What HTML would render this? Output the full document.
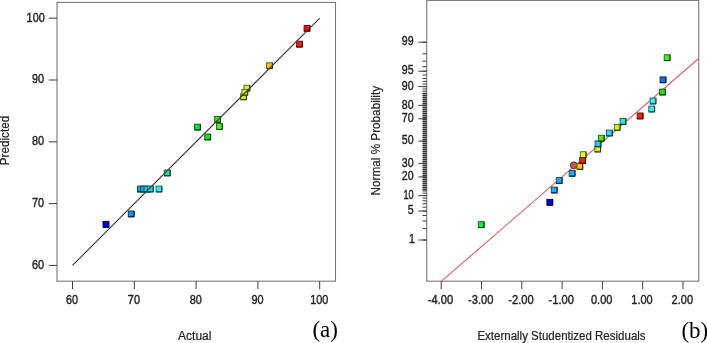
<!DOCTYPE html>
<html lang="en"><head><meta charset="utf-8"><title>Predicted vs Actual and Normal Plot of Residuals</title>
<style>html,body{margin:0;padding:0;background:#fff;}body{width:707px;height:343px;overflow:hidden;}svg{display:block;}.t{font-family:"Liberation Sans",Arial,sans-serif;fill:#222;stroke:#222;stroke-width:0.4px;}.t2{stroke-width:0.2px;}.s{font-family:"Liberation Serif","Times New Roman",serif;fill:#000;}</style></head><body>
<svg width="707" height="343" viewBox="0 0 707 343">
<rect x="0" y="0" width="707" height="343" fill="#fff"/>
<g id="chart-a">
<rect x="57.0" y="2.4" width="278.5" height="278.8" fill="#fff" stroke="#787878" stroke-width="1.1"/>
<line x1="48.8" y1="265.4" x2="57.0" y2="265.4" stroke="#3c3c3c" stroke-width="1"/>
<text class="t" x="44" y="268.6" font-size="12.6" text-anchor="end" textLength="12.1" lengthAdjust="spacingAndGlyphs">60</text>
<line x1="72.5" y1="281.2" x2="72.5" y2="289.2" stroke="#3c3c3c" stroke-width="1"/>
<text class="t" x="72.1" y="304.2" font-size="12.6" text-anchor="middle" textLength="12.1" lengthAdjust="spacingAndGlyphs">60</text>
<line x1="48.8" y1="203.6" x2="57.0" y2="203.6" stroke="#3c3c3c" stroke-width="1"/>
<text class="t" x="44" y="206.8" font-size="12.6" text-anchor="end" textLength="12.1" lengthAdjust="spacingAndGlyphs">70</text>
<line x1="134.3" y1="281.2" x2="134.3" y2="289.2" stroke="#3c3c3c" stroke-width="1"/>
<text class="t" x="133.9" y="304.2" font-size="12.6" text-anchor="middle" textLength="12.1" lengthAdjust="spacingAndGlyphs">70</text>
<line x1="48.8" y1="141.8" x2="57.0" y2="141.8" stroke="#3c3c3c" stroke-width="1"/>
<text class="t" x="44" y="145.0" font-size="12.6" text-anchor="end" textLength="12.1" lengthAdjust="spacingAndGlyphs">80</text>
<line x1="196.1" y1="281.2" x2="196.1" y2="289.2" stroke="#3c3c3c" stroke-width="1"/>
<text class="t" x="195.7" y="304.2" font-size="12.6" text-anchor="middle" textLength="12.1" lengthAdjust="spacingAndGlyphs">80</text>
<line x1="48.8" y1="80.0" x2="57.0" y2="80.0" stroke="#3c3c3c" stroke-width="1"/>
<text class="t" x="44" y="83.2" font-size="12.6" text-anchor="end" textLength="12.1" lengthAdjust="spacingAndGlyphs">90</text>
<line x1="257.9" y1="281.2" x2="257.9" y2="289.2" stroke="#3c3c3c" stroke-width="1"/>
<text class="t" x="257.5" y="304.2" font-size="12.6" text-anchor="middle" textLength="12.1" lengthAdjust="spacingAndGlyphs">90</text>
<line x1="48.8" y1="18.2" x2="57.0" y2="18.2" stroke="#3c3c3c" stroke-width="1"/>
<text class="t" x="44.7" y="22.0" font-size="12.6" text-anchor="end" textLength="18.1" lengthAdjust="spacingAndGlyphs">100</text>
<line x1="319.7" y1="281.2" x2="319.7" y2="289.2" stroke="#3c3c3c" stroke-width="1"/>
<text class="t" x="319.3" y="304.2" font-size="12.6" text-anchor="middle" textLength="18.1" lengthAdjust="spacingAndGlyphs">100</text>
<rect x="103.0" y="221.4" width="5.8" height="5.8" fill="#0404d8" stroke="#01015a" stroke-width="0.95"/><path d="M103.0 227.2H108.8V221.4" fill="none" stroke="#00002b" stroke-width="0.95"/>
<rect x="128.3" y="211.0" width="5.8" height="5.8" fill="#1c8ae6" stroke="#0b3960" stroke-width="0.95"/><path d="M128.3 216.8H134.1V211.0" fill="none" stroke="#051b2e" stroke-width="0.95"/>
<rect x="137.5" y="186.1" width="5.8" height="5.8" fill="#18a4ea" stroke="#0a4462" stroke-width="0.95"/><path d="M137.5 191.9H143.3V186.1" fill="none" stroke="#04202e" stroke-width="0.95"/>
<rect x="140.5" y="186.1" width="5.8" height="5.8" fill="#18a8ec" stroke="#0a4663" stroke-width="0.95"/><path d="M140.5 191.9H146.3V186.1" fill="none" stroke="#04212f" stroke-width="0.95"/>
<rect x="144.1" y="186.1" width="5.8" height="5.8" fill="#1cc4ee" stroke="#0b5263" stroke-width="0.95"/><path d="M144.1 191.9H149.9V186.1" fill="none" stroke="#05272f" stroke-width="0.95"/>
<rect x="147.5" y="186.1" width="5.8" height="5.8" fill="#22dcea" stroke="#0e5c62" stroke-width="0.95"/><path d="M147.5 191.9H153.3V186.1" fill="none" stroke="#062c2e" stroke-width="0.95"/>
<rect x="156.1" y="186.1" width="5.8" height="5.8" fill="#2cf2f0" stroke="#126564" stroke-width="0.95"/><path d="M156.1 191.9H161.9V186.1" fill="none" stroke="#083030" stroke-width="0.95"/>
<rect x="164.4" y="170.0" width="5.8" height="5.8" fill="#24dca4" stroke="#0f5c44" stroke-width="0.95"/><path d="M164.4 175.8H170.2V170.0" fill="none" stroke="#072c20" stroke-width="0.95"/>
<rect x="204.8" y="134.0" width="5.8" height="5.8" fill="#12e424" stroke="#075f0f" stroke-width="0.95"/><path d="M204.8 139.8H210.6V134.0" fill="none" stroke="#032d07" stroke-width="0.95"/>
<rect x="194.6" y="124.2" width="5.8" height="5.8" fill="#12e436" stroke="#075f16" stroke-width="0.95"/><path d="M194.6 130.0H200.4V124.2" fill="none" stroke="#032d0a" stroke-width="0.95"/>
<rect x="216.5" y="123.6" width="5.8" height="5.8" fill="#52f02c" stroke="#226412" stroke-width="0.95"/><path d="M216.5 129.4H222.3V123.6" fill="none" stroke="#103008" stroke-width="0.95"/>
<rect x="214.7" y="116.5" width="5.8" height="5.8" fill="#44e424" stroke="#1c5f0f" stroke-width="0.95"/><path d="M214.7 122.3H220.5V116.5" fill="none" stroke="#0d2d07" stroke-width="0.95"/>
<rect x="244.0" y="85.3" width="5.8" height="5.8" fill="#d8f23c" stroke="#5a6519" stroke-width="0.95"/><path d="M244.0 91.1H249.8V85.3" fill="none" stroke="#2b300c" stroke-width="0.95"/>
<rect x="240.6" y="93.9" width="5.8" height="5.8" fill="#d2f430" stroke="#586614" stroke-width="0.95"/><path d="M240.6 99.7H246.4V93.9" fill="none" stroke="#2a3009" stroke-width="0.95"/>
<rect x="241.9" y="89.4" width="5.8" height="5.8" fill="#d0f224" stroke="#57650f" stroke-width="0.95"/><path d="M241.9 95.2H247.7V89.4" fill="none" stroke="#293007" stroke-width="0.95"/>
<rect x="266.6" y="62.8" width="5.8" height="5.8" fill="#f2c424" stroke="#65520f" stroke-width="0.95"/><path d="M266.6 68.6H272.4V62.8" fill="none" stroke="#302707" stroke-width="0.95"/>
<rect x="296.6" y="41.2" width="5.8" height="5.8" fill="#f22410" stroke="#650f06" stroke-width="0.95"/><path d="M296.6 47.0H302.4V41.2" fill="none" stroke="#300703" stroke-width="0.95"/>
<rect x="304.1" y="25.4" width="5.8" height="5.8" fill="#ee0c0c" stroke="#630505" stroke-width="0.95"/><path d="M304.1 31.2H309.9V25.4" fill="none" stroke="#2f0202" stroke-width="0.95"/>
<line x1="72.5" y1="265.4" x2="319.7" y2="18.2" stroke="#3a3a3a" stroke-width="1.15"/>
<text class="t t2" x="178" y="339.7" font-size="12" textLength="33.5" lengthAdjust="spacingAndGlyphs">Actual</text>
<text class="t t2" transform="translate(8.8,165.2) rotate(-90)" font-size="12" textLength="49.4" lengthAdjust="spacingAndGlyphs">Predicted</text>
<text class="s" x="312.4" y="337.1" font-size="23">(a)</text>
</g>
<g id="chart-b">
<rect x="426.7" y="0.4" width="272.00000000000006" height="280.8" fill="#fff" stroke="#787878" stroke-width="1.1"/>
<path d="M422.5 42.2H426.7M422.5 53.8H426.7M422.5 61.2H426.7M422.5 66.7H426.7M422.5 71.2H426.7M422.5 75.0H426.7M422.5 78.4H426.7M422.5 81.4H426.7M422.5 84.1H426.7M422.5 86.6H426.7M422.5 89.0H426.7M422.5 91.2H426.7M422.5 191.0H426.7M422.5 193.2H426.7M422.5 195.6H426.7M422.5 198.1H426.7M422.5 200.8H426.7M422.5 203.8H426.7M422.5 207.2H426.7M422.5 211.0H426.7M422.5 215.5H426.7M422.5 221.0H426.7M422.5 228.4H426.7M422.5 240.0H426.7" stroke="#3c3c3c" stroke-width="1" fill="none"/>
<path d="M422.5 93.5H426.7M422.5 95.5H426.7M422.5 97.5H426.7M422.5 99.5H426.7M422.5 101.5H426.7M422.5 103.5H426.7M422.5 105.5H426.7M422.5 107.5H426.7M422.5 109.5H426.7M422.5 111.5H426.7M422.5 113.5H426.7M422.5 115.5H426.7M422.5 117.5H426.7M422.5 119.5H426.7M422.5 121.5H426.7M422.5 123.5H426.7M422.5 125.5H426.7M422.5 127.5H426.7M422.5 129.5H426.7M422.5 131.5H426.7M422.5 133.5H426.7M422.5 135.5H426.7M422.5 137.5H426.7M422.5 139.5H426.7M422.5 141.5H426.7M422.5 143.5H426.7M422.5 145.5H426.7M422.5 147.5H426.7M422.5 149.5H426.7M422.5 151.5H426.7M422.5 153.5H426.7M422.5 155.5H426.7M422.5 157.5H426.7M422.5 159.5H426.7M422.5 161.5H426.7M422.5 163.5H426.7M422.5 165.5H426.7M422.5 167.5H426.7M422.5 169.5H426.7M422.5 171.5H426.7M422.5 173.5H426.7M422.5 175.5H426.7M422.5 177.5H426.7M422.5 179.5H426.7M422.5 181.5H426.7M422.5 183.5H426.7M422.5 185.5H426.7M422.5 187.5H426.7M422.5 189.5H426.7" stroke="#303030" stroke-width="1.3" fill="none"/>
<line x1="418.3" y1="240.0" x2="426.7" y2="240.0" stroke="#3c3c3c" stroke-width="1"/>
<text class="t" x="414.8" y="243.2" font-size="12.6" text-anchor="end" textLength="5.9" lengthAdjust="spacingAndGlyphs">1</text>
<line x1="418.3" y1="211.0" x2="426.7" y2="211.0" stroke="#3c3c3c" stroke-width="1"/>
<text class="t" x="413.6" y="214.2" font-size="12.6" text-anchor="end" textLength="5.9" lengthAdjust="spacingAndGlyphs">5</text>
<line x1="418.3" y1="195.6" x2="426.7" y2="195.6" stroke="#3c3c3c" stroke-width="1"/>
<text class="t" x="413.6" y="198.8" font-size="12.6" text-anchor="end" textLength="10.2" lengthAdjust="spacingAndGlyphs">10</text>
<line x1="418.3" y1="176.9" x2="426.7" y2="176.9" stroke="#3c3c3c" stroke-width="1"/>
<text class="t" x="413.6" y="180.1" font-size="12.6" text-anchor="end" textLength="11.8" lengthAdjust="spacingAndGlyphs">20</text>
<line x1="418.3" y1="163.4" x2="426.7" y2="163.4" stroke="#3c3c3c" stroke-width="1"/>
<text class="t" x="413.6" y="166.6" font-size="12.6" text-anchor="end" textLength="11.8" lengthAdjust="spacingAndGlyphs">30</text>
<line x1="418.3" y1="141.1" x2="426.7" y2="141.1" stroke="#3c3c3c" stroke-width="1"/>
<text class="t" x="413.6" y="144.3" font-size="12.6" text-anchor="end" textLength="11.8" lengthAdjust="spacingAndGlyphs">50</text>
<line x1="418.3" y1="118.8" x2="426.7" y2="118.8" stroke="#3c3c3c" stroke-width="1"/>
<text class="t" x="413.6" y="122.0" font-size="12.6" text-anchor="end" textLength="11.8" lengthAdjust="spacingAndGlyphs">70</text>
<line x1="418.3" y1="105.3" x2="426.7" y2="105.3" stroke="#3c3c3c" stroke-width="1"/>
<text class="t" x="413.6" y="108.5" font-size="12.6" text-anchor="end" textLength="11.8" lengthAdjust="spacingAndGlyphs">80</text>
<line x1="418.3" y1="86.6" x2="426.7" y2="86.6" stroke="#3c3c3c" stroke-width="1"/>
<text class="t" x="413.6" y="89.8" font-size="12.6" text-anchor="end" textLength="11.8" lengthAdjust="spacingAndGlyphs">90</text>
<line x1="418.3" y1="71.2" x2="426.7" y2="71.2" stroke="#3c3c3c" stroke-width="1"/>
<text class="t" x="413.6" y="74.4" font-size="12.6" text-anchor="end" textLength="11.8" lengthAdjust="spacingAndGlyphs">95</text>
<line x1="418.3" y1="42.2" x2="426.7" y2="42.2" stroke="#3c3c3c" stroke-width="1"/>
<text class="t" x="413.6" y="45.4" font-size="12.6" text-anchor="end" textLength="11.8" lengthAdjust="spacingAndGlyphs">99</text>
<line x1="441.2" y1="281.2" x2="441.2" y2="289.2" stroke="#3c3c3c" stroke-width="1"/>
<text class="t" x="440.4" y="304.2" font-size="12.6" text-anchor="middle" textLength="25.4" lengthAdjust="spacingAndGlyphs">-4.00</text>
<line x1="481.5" y1="281.2" x2="481.5" y2="289.2" stroke="#3c3c3c" stroke-width="1"/>
<text class="t" x="480.7" y="304.2" font-size="12.6" text-anchor="middle" textLength="25.4" lengthAdjust="spacingAndGlyphs">-3.00</text>
<line x1="521.8" y1="281.2" x2="521.8" y2="289.2" stroke="#3c3c3c" stroke-width="1"/>
<text class="t" x="521.0" y="304.2" font-size="12.6" text-anchor="middle" textLength="25.4" lengthAdjust="spacingAndGlyphs">-2.00</text>
<line x1="562.1" y1="281.2" x2="562.1" y2="289.2" stroke="#3c3c3c" stroke-width="1"/>
<text class="t" x="561.3" y="304.2" font-size="12.6" text-anchor="middle" textLength="25.4" lengthAdjust="spacingAndGlyphs">-1.00</text>
<line x1="602.4" y1="281.2" x2="602.4" y2="289.2" stroke="#3c3c3c" stroke-width="1"/>
<text class="t" x="601.7" y="304.2" font-size="12.6" text-anchor="middle" textLength="21.4" lengthAdjust="spacingAndGlyphs">0.00</text>
<line x1="642.7" y1="281.2" x2="642.7" y2="289.2" stroke="#3c3c3c" stroke-width="1"/>
<text class="t" x="642.0" y="304.2" font-size="12.6" text-anchor="middle" textLength="21.4" lengthAdjust="spacingAndGlyphs">1.00</text>
<line x1="683.0" y1="281.2" x2="683.0" y2="289.2" stroke="#3c3c3c" stroke-width="1"/>
<text class="t" x="682.3" y="304.2" font-size="12.6" text-anchor="middle" textLength="21.4" lengthAdjust="spacingAndGlyphs">2.00</text>
<line x1="441.5" y1="281.2" x2="698.7" y2="58.5" stroke="#d45e64" stroke-width="1.1"/>
<rect x="478.3" y="221.7" width="5.8" height="5.8" fill="#18ea38" stroke="#0a6217" stroke-width="0.95"/><path d="M478.3 227.5H484.1V221.7" fill="none" stroke="#042e0b" stroke-width="0.95"/>
<rect x="546.9" y="199.4" width="5.8" height="5.8" fill="#0404d4" stroke="#010159" stroke-width="0.95"/><path d="M546.9 205.2H552.7V199.4" fill="none" stroke="#00002a" stroke-width="0.95"/>
<rect x="551.3" y="187.1" width="5.8" height="5.8" fill="#20b0f0" stroke="#0d4964" stroke-width="0.95"/><path d="M551.3 192.9H557.1V187.1" fill="none" stroke="#062330" stroke-width="0.95"/>
<rect x="556.3" y="177.6" width="5.8" height="5.8" fill="#20a8f0" stroke="#0d4664" stroke-width="0.95"/><path d="M556.3 183.4H562.1V177.6" fill="none" stroke="#062130" stroke-width="0.95"/>
<rect x="569.2" y="170.4" width="5.8" height="5.8" fill="#20a8f0" stroke="#0d4664" stroke-width="0.95"/><path d="M569.2 176.2H575.0V170.4" fill="none" stroke="#062130" stroke-width="0.95"/>
<circle cx="573.8" cy="165.3" r="3.4" fill="#c25a4c" stroke="#5c2218" stroke-width="1"/>
<rect x="576.9" y="163.5" width="5.8" height="5.8" fill="#f2c424" stroke="#65520f" stroke-width="0.95"/><path d="M576.9 169.3H582.7V163.5" fill="none" stroke="#302707" stroke-width="0.95"/>
<rect x="579.7" y="157.5" width="5.8" height="5.8" fill="#f21c10" stroke="#650b06" stroke-width="0.95"/><path d="M579.7 163.3H585.5V157.5" fill="none" stroke="#300503" stroke-width="0.95"/>
<rect x="580.3" y="151.7" width="5.8" height="5.8" fill="#e2f430" stroke="#5e6614" stroke-width="0.95"/><path d="M580.3 157.5H586.1V151.7" fill="none" stroke="#2d3009" stroke-width="0.95"/>
<rect x="594.8" y="146.1" width="5.8" height="5.8" fill="#d0f224" stroke="#57650f" stroke-width="0.95"/><path d="M594.8 151.9H600.6V146.1" fill="none" stroke="#293007" stroke-width="0.95"/>
<rect x="595.1" y="140.9" width="5.8" height="5.8" fill="#22c8f0" stroke="#0e5464" stroke-width="0.95"/><path d="M595.1 146.7H600.9V140.9" fill="none" stroke="#062830" stroke-width="0.95"/>
<rect x="598.4" y="135.3" width="5.8" height="5.8" fill="#50e824" stroke="#21610f" stroke-width="0.95"/><path d="M598.4 141.1H604.2V135.3" fill="none" stroke="#102e07" stroke-width="0.95"/>
<rect x="606.5" y="130.1" width="5.8" height="5.8" fill="#30d8f0" stroke="#145a64" stroke-width="0.95"/><path d="M606.5 135.9H612.3V130.1" fill="none" stroke="#092b30" stroke-width="0.95"/>
<rect x="614.3" y="124.5" width="5.8" height="5.8" fill="#c2f224" stroke="#51650f" stroke-width="0.95"/><path d="M614.3 130.3H620.1V124.5" fill="none" stroke="#263007" stroke-width="0.95"/>
<rect x="620.1" y="118.5" width="5.8" height="5.8" fill="#30e8c8" stroke="#146154" stroke-width="0.95"/><path d="M620.1 124.3H625.9V118.5" fill="none" stroke="#092e28" stroke-width="0.95"/>
<rect x="637.2" y="113.0" width="5.8" height="5.8" fill="#f22410" stroke="#650f06" stroke-width="0.95"/><path d="M637.2 118.8H643.0V113.0" fill="none" stroke="#300703" stroke-width="0.95"/>
<rect x="648.8" y="106.1" width="5.8" height="5.8" fill="#30f0f0" stroke="#146464" stroke-width="0.95"/><path d="M648.8 111.9H654.6V106.1" fill="none" stroke="#093030" stroke-width="0.95"/>
<rect x="650.1" y="98.1" width="5.8" height="5.8" fill="#30f0f0" stroke="#146464" stroke-width="0.95"/><path d="M650.1 103.9H655.9V98.1" fill="none" stroke="#093030" stroke-width="0.95"/>
<rect x="659.6" y="89.1" width="5.8" height="5.8" fill="#22e212" stroke="#0e5e07" stroke-width="0.95"/><path d="M659.6 94.9H665.4V89.1" fill="none" stroke="#062d03" stroke-width="0.95"/>
<rect x="660.1" y="76.9" width="5.8" height="5.8" fill="#1270e0" stroke="#072f5e" stroke-width="0.95"/><path d="M660.1 82.7H665.9V76.9" fill="none" stroke="#03162c" stroke-width="0.95"/>
<rect x="664.2" y="54.8" width="5.8" height="5.8" fill="#42f012" stroke="#1b6407" stroke-width="0.95"/><path d="M664.2 60.6H670.0V54.8" fill="none" stroke="#0d3003" stroke-width="0.95"/>
<text class="t t2" x="477.4" y="339.8" font-size="12" textLength="168.2" lengthAdjust="spacingAndGlyphs">Externally Studentized Residuals</text>
<text class="t t2" transform="translate(380.4,195.4) rotate(-90)" font-size="12" textLength="109.5" lengthAdjust="spacingAndGlyphs">Normal % Probability</text>
<text class="s" x="681.4" y="338.1" font-size="23">(b)</text>
</g>
</svg></body></html>
